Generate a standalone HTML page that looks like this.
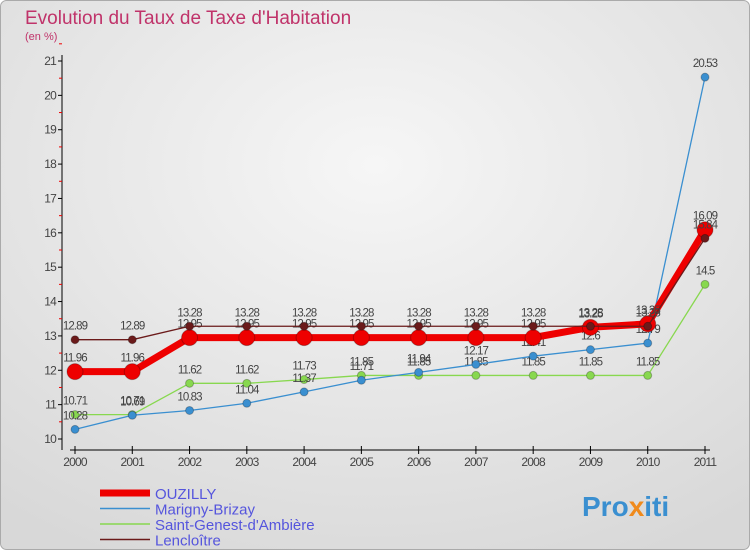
<!DOCTYPE html>
<html><head><meta charset="utf-8"><style>
body{margin:0;width:750px;height:550px;overflow:hidden;font-family:"Liberation Sans",sans-serif}
</style></head><body>
<svg width="750" height="550" xmlns="http://www.w3.org/2000/svg">
<defs><radialGradient id="bg" cx="0.5" cy="0.3" r="0.8"><stop offset="0" stop-color="#f6f6f6"/><stop offset="1" stop-color="#d8d8d8"/></radialGradient></defs>
<rect x="0.5" y="0.5" width="749" height="549" rx="6" fill="url(#bg)" stroke="#aaa"/>
<text x="25" y="24" font-size="19" fill="#c0336a">Evolution du Taux de Taxe d'Habitation</text>
<text x="25" y="40" font-size="11" fill="#c0336a">(en %)</text>
<g id="axes"></g>
<g id="series"></g>
<g id="legend"></g>
<text x="582" y="516" font-size="28" font-weight="bold" fill="#3a8fd0">Pro<tspan fill="#f08a1c">x</tspan>iti</text>
</svg>
<script>
const years=[2000,2001,2002,2003,2004,2005,2006,2007,2008,2009,2010,2011];
const yTicks=[10,11,12,13,14,15,16,17,18,19,20,21];
const ouzilly=[11.96,11.96,12.95,12.95,12.95,12.95,12.95,12.95,12.95,13.25,13.35,16.09];
const marigny=[10.28,10.69,10.83,11.04,11.37,11.71,11.94,12.17,12.41,12.6,12.79,20.53];
const genest=[10.71,10.71,11.62,11.62,11.73,11.85,11.85,11.85,11.85,11.85,11.85,14.5];
const lencloitre=[12.89,12.89,13.28,13.28,13.28,13.28,13.28,13.28,13.28,13.28,13.28,15.84];
const NS="http://www.w3.org/2000/svg";
const X=i=>75+i*(630/11);
const Y=v=>439-(v-10)*(378/11);
function mk(t,a,p){const e=document.createElementNS(NS,t);for(const k in a)e.setAttribute(k,a[k]);p.appendChild(e);return e;}
const ax=document.getElementById('axes');
let l=mk('line',{x1:62,y1:55,x2:62,y2:450,stroke:'#000'},ax);


l=mk('line',{x1:70,y1:450,x2:710,y2:450,stroke:'#000'},ax);


yTicks.forEach(v=>{
 mk('line',{x1:58,y1:Y(v),x2:62,y2:Y(v),stroke:'#000'},ax);
 mk('line',{x1:59,y1:Y(v+0.5),x2:62,y2:Y(v+0.5),stroke:'#e00'},ax);
 const t=mk('text',{x:56,y:Y(v)+4,'font-size':12,fill:'#444','text-anchor':'end','letter-spacing':'-0.8'},ax);t.textContent=v;
 
 
});
years.forEach((y,i)=>{
 mk('line',{x1:X(i),y1:446,x2:X(i),y2:454,stroke:'#000'},ax);
 const t=mk('text',{x:X(i),y:466,'font-size':12,fill:'#444','text-anchor':'middle','letter-spacing':'-0.8'},ax);t.textContent=y;
 
 
});
const sg=document.getElementById('series');
function draw(vals,color,w,r,name,lblOff){
 const g=mk('g',{},sg);
 
 
 mk('polyline',{points:vals.map((v,i)=>X(i)+','+Y(v)).join(' '),fill:'none',stroke:color,'stroke-width':w,'stroke-linejoin':'round'},g);
 vals.forEach((v,i)=>{
  const c=mk('circle',{cx:X(i),cy:Y(v),r:r,fill:color,stroke:'rgba(0,0,0,0.25)'},g);
  
  
  const t=mk('text',{x:X(i),y:Y(v)+lblOff,'font-size':11.5,fill:'#444','text-anchor':'middle','letter-spacing':'-0.9'},g);
  t.textContent=v;
 });
}
draw(genest,'#88d84f',1.3,4,'saint-genest-series',-10);
draw(marigny,'#3a8fd0',1.3,4,'marigny-series',-10);
draw(ouzilly,'#ee0000',7,8,'ouzilly-series',-10);
draw(lencloitre,'#6b1a1a',1.3,4,'lencloitre-series',-10);
const lg=document.getElementById('legend');
const items=[['OUZILLY','#ee0000',7],['Marigny-Brizay','#3a8fd0',1.5],['Saint-Genest-d\'Ambière','#88d84f',1.5],['Lencloître','#6b1a1a',1.5]];
items.forEach((it,i)=>{
 const y=493+i*15.5;
 const g=mk('g',{},lg);
 
 
 mk('line',{x1:100,y1:y,x2:150,y2:y,stroke:it[1],'stroke-width':it[2]},g);
 const t=mk('text',{x:155,y:y+6,'font-size':15,fill:'#5555dd'},g);t.textContent=it[0];
});
</script>
</body></html>
